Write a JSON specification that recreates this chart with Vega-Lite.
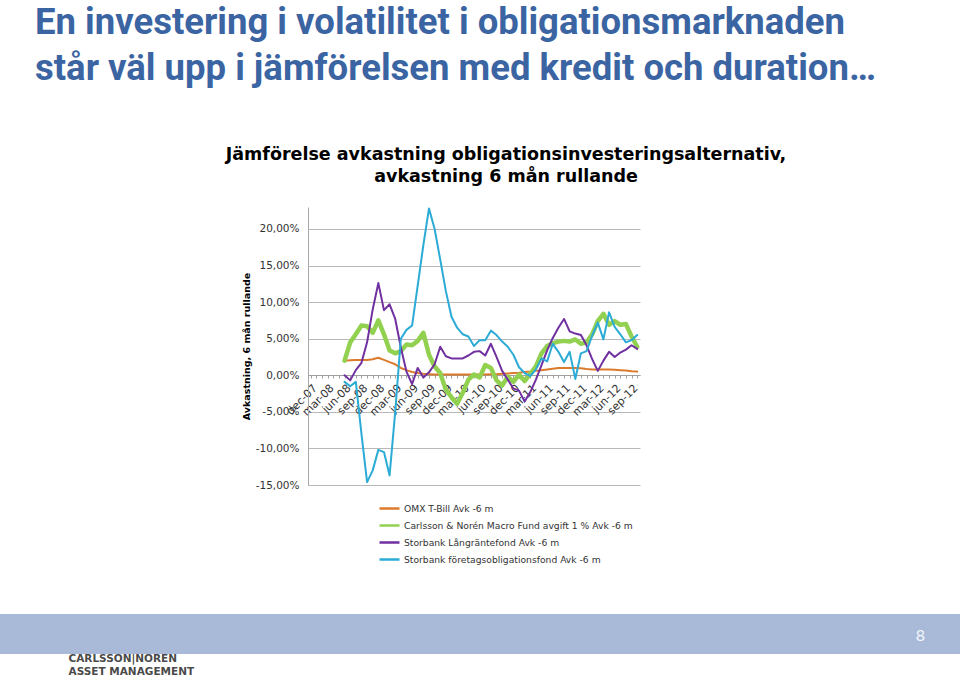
{
  "$schema": "https://vega.github.io/schema/vega-lite/v6.json",
  "background": "white",
  "padding": {"left": 0, "top": 5, "right": 0, "bottom": 0},
  "title": {
    "text": ["En investering i volatilitet i obligationsmarknaden", "står väl upp i jämförelsen med kredit och duration…"],
    "anchor": "start",
    "frame": "bounds",
    "dx": 35,
    "font": "Roboto",
    "fontSize": 36.5,
    "fontWeight": "bold",
    "color": "#3B64A3",
    "lineHeight": 46,
    "offset": 58
  },
  "spacing": 123,
  "vconcat": [
    {
      "spacing": 0,
      "hconcat": [
        {
          "width": 225,
          "height": 1,
          "data": {"values": []},
          "mark": "point"
        },
        {
          "width": 332,
          "height": 278,
          "title": {
            "text": ["Jämförelse avkastning obligationsinvesteringsalternativ,", "avkastning 6 mån rullande"],
            "font": "DejaVu Sans",
            "fontSize": 17.5,
            "fontWeight": "bold",
            "color": "#000000",
            "anchor": "middle",
            "frame": "group",
            "dx": 32,
            "lineHeight": 22,
            "offset": 22
          },
          "data": {
            "values": [
              {"m": "jun-08", "omx": 2.0, "cn": 2.0, "lang": 0.0, "ftg": -0.9},
              {"m": "jul-08", "omx": 2.05, "cn": 4.5, "lang": -0.7, "ftg": -1.5},
              {"m": "aug-08", "omx": 2.1, "cn": 5.6, "lang": 0.7, "ftg": -0.9},
              {"m": "sep-08", "omx": 2.1, "cn": 6.8, "lang": 1.7, "ftg": -8.0},
              {"m": "okt-08", "omx": 2.1, "cn": 6.7, "lang": 4.5, "ftg": -14.6},
              {"m": "nov-08", "omx": 2.2, "cn": 5.8, "lang": 9.0, "ftg": -13.0},
              {"m": "dec-08", "omx": 2.4, "cn": 7.5, "lang": 12.6, "ftg": -10.2},
              {"m": "jan-09", "omx": 2.1, "cn": 5.6, "lang": 8.9, "ftg": -10.5},
              {"m": "feb-09", "omx": 1.8, "cn": 3.4, "lang": 9.7, "ftg": -13.7},
              {"m": "mar-09", "omx": 1.5, "cn": 3.0, "lang": 7.7, "ftg": -5.0},
              {"m": "apr-09", "omx": 1.0, "cn": 3.3, "lang": 3.8, "ftg": 5.0},
              {"m": "maj-09", "omx": 0.7, "cn": 4.2, "lang": 0.5, "ftg": 6.2},
              {"m": "jun-09", "omx": 0.45, "cn": 4.1, "lang": -1.2, "ftg": 6.8},
              {"m": "jul-09", "omx": 0.3, "cn": 4.7, "lang": 1.0, "ftg": 12.3},
              {"m": "aug-09", "omx": 0.2, "cn": 5.8, "lang": -0.3, "ftg": 17.8},
              {"m": "sep-09", "omx": 0.15, "cn": 2.8, "lang": 0.4, "ftg": 22.8},
              {"m": "okt-09", "omx": 0.1, "cn": 1.2, "lang": 1.5, "ftg": 20.0},
              {"m": "nov-09", "omx": 0.1, "cn": 0.3, "lang": 3.9, "ftg": 15.8},
              {"m": "dec-09", "omx": 0.1, "cn": -2.0, "lang": 2.6, "ftg": 11.5},
              {"m": "jan-10", "omx": 0.1, "cn": -3.0, "lang": 2.3, "ftg": 8.0},
              {"m": "feb-10", "omx": 0.1, "cn": -3.9, "lang": 2.3, "ftg": 6.5},
              {"m": "mar-10", "omx": 0.1, "cn": -2.4, "lang": 2.3, "ftg": 5.6},
              {"m": "apr-10", "omx": 0.1, "cn": -0.6, "lang": 2.7, "ftg": 5.3},
              {"m": "maj-10", "omx": 0.1, "cn": 0.1, "lang": 3.2, "ftg": 4.0},
              {"m": "jun-10", "omx": 0.1, "cn": -0.3, "lang": 3.3, "ftg": 4.8},
              {"m": "jul-10", "omx": 0.1, "cn": 1.4, "lang": 2.7, "ftg": 4.8},
              {"m": "aug-10", "omx": 0.15, "cn": 1.0, "lang": 4.3, "ftg": 6.1},
              {"m": "sep-10", "omx": 0.15, "cn": -0.7, "lang": 2.5, "ftg": 5.5},
              {"m": "okt-10", "omx": 0.2, "cn": -1.4, "lang": 0.6, "ftg": 4.6},
              {"m": "nov-10", "omx": 0.25, "cn": -0.2, "lang": -0.6, "ftg": 3.9},
              {"m": "dec-10", "omx": 0.3, "cn": -0.9, "lang": -1.8, "ftg": 2.8},
              {"m": "jan-11", "omx": 0.35, "cn": 0.1, "lang": -2.1, "ftg": 1.1},
              {"m": "feb-11", "omx": 0.45, "cn": -0.8, "lang": -3.6, "ftg": 0.3},
              {"m": "mar-11", "omx": 0.5, "cn": 0.2, "lang": -2.3, "ftg": -0.1},
              {"m": "apr-11", "omx": 0.6, "cn": 1.2, "lang": -0.6, "ftg": 0.8},
              {"m": "maj-11", "omx": 0.7, "cn": 3.0, "lang": 1.4, "ftg": 2.3},
              {"m": "jun-11", "omx": 0.8, "cn": 4.0, "lang": 3.4, "ftg": 1.9},
              {"m": "jul-11", "omx": 0.9, "cn": 4.4, "lang": 5.1, "ftg": 4.3},
              {"m": "aug-11", "omx": 1.0, "cn": 4.6, "lang": 6.5, "ftg": 3.2},
              {"m": "sep-11", "omx": 1.0, "cn": 4.7, "lang": 7.7, "ftg": 1.8},
              {"m": "okt-11", "omx": 1.0, "cn": 4.6, "lang": 6.0, "ftg": 3.2},
              {"m": "nov-11", "omx": 1.0, "cn": 4.9, "lang": 5.7, "ftg": -0.5},
              {"m": "dec-11", "omx": 0.95, "cn": 4.3, "lang": 5.5, "ftg": 3.0},
              {"m": "jan-12", "omx": 0.85, "cn": 4.5, "lang": 4.1, "ftg": 3.3},
              {"m": "feb-12", "omx": 0.8, "cn": 5.6, "lang": 2.2, "ftg": 5.4},
              {"m": "mar-12", "omx": 0.8, "cn": 7.4, "lang": 0.6, "ftg": 7.2},
              {"m": "apr-12", "omx": 0.8, "cn": 8.4, "lang": 2.0, "ftg": 4.9},
              {"m": "maj-12", "omx": 0.8, "cn": 6.9, "lang": 3.2, "ftg": 8.6},
              {"m": "jun-12", "omx": 0.75, "cn": 7.4, "lang": 2.5, "ftg": 6.6},
              {"m": "jul-12", "omx": 0.7, "cn": 6.9, "lang": 3.1, "ftg": 5.6},
              {"m": "aug-12", "omx": 0.65, "cn": 7.0, "lang": 3.5, "ftg": 4.5},
              {"m": "sep-12", "omx": 0.55, "cn": 5.3, "lang": 4.1, "ftg": 4.8},
              {"m": "okt-12", "omx": 0.5, "cn": 3.9, "lang": 3.6, "ftg": 5.5}
            ]
          },
          "transform": [
            {"fold": ["omx", "cn", "lang", "ftg"], "as": ["serie", "v"]}
          ],
          "mark": {"type": "line", "strokeJoin": "round", "strokeCap": "round"},
          "encoding": {
            "x": {
              "field": "m",
              "type": "ordinal",
              "sort": null,
              "scale": {
                "type": "point",
                "padding": 0.5,
                "domain": ["dec-07",
                  "jan-08", "feb-08", "mar-08", "apr-08", "maj-08", "jun-08", "jul-08", "aug-08", "sep-08", "okt-08", "nov-08", "dec-08",
                  "jan-09", "feb-09", "mar-09", "apr-09", "maj-09", "jun-09", "jul-09", "aug-09", "sep-09", "okt-09", "nov-09", "dec-09",
                  "jan-10", "feb-10", "mar-10", "apr-10", "maj-10", "jun-10", "jul-10", "aug-10", "sep-10", "okt-10", "nov-10", "dec-10",
                  "jan-11", "feb-11", "mar-11", "apr-11", "maj-11", "jun-11", "jul-11", "aug-11", "sep-11", "okt-11", "nov-11", "dec-11",
                  "jan-12", "feb-12", "mar-12", "apr-12", "maj-12", "jun-12", "jul-12", "aug-12", "sep-12", "okt-12"]
              },
              "axis": {
                "title": null,
                "offset": -110,
                "labelAngle": -45,
                "labelExpr": "test(/^(dec|mar|jun|sep)/, datum.label) ? datum.label : ''",
                "labelOverlap": false,
                "labelFontSize": 11,
                "labelColor": "#333333",
                "labelPadding": 4,
                "tickSize": 3,
                "tickColor": "#a0a0a0",
                "domainColor": "#a0a0a0",
                "grid": false
              }
            },
            "y": {
              "field": "v",
              "type": "quantitative",
              "scale": {"domain": [-15, 23], "nice": false, "zero": false},
              "axis": {
                "title": "Avkastning, 6 mån rullande",
                "values": [-15, -10, -5, 0, 5, 10, 15, 20],
                "labelExpr": "datum.value + ',00%'",
                "labelFontSize": 10.5,
                "labelColor": "#333333",
                "ticks": false,
                "labelPadding": 9,
                "gridColor": "#b8b8b8",
                "domainColor": "#a8a8a8",
                "titleFontSize": 9.5,
                "titleFontWeight": "bold",
                "titleColor": "#000000",
                "titlePadding": 4
              }
            },
            "color": {
              "field": "serie",
              "type": "nominal",
              "scale": {
                "domain": ["omx", "cn", "lang", "ftg"],
                "range": ["#DC7A2C", "#92D050", "#7030A0", "#2BABD6"]
              },
              "legend": {
                "title": null,
                "orient": "none",
                "legendX": 378,
                "legendY": 290,
                "symbolType": "stroke",
                "symbolSize": 400,
                "symbolStrokeWidth": 2.5,
                "labelFontSize": 9.2,
                "labelColor": "#333333",
                "labelOffset": 3,
                "rowPadding": -2,
                "labelLimit": 400,
                "labelExpr": "datum.value == 'omx' ? 'OMX  T-Bill Avk -6 m' : datum.value == 'cn' ? 'Carlsson & Norén Macro Fund avgift 1 % Avk -6 m' : datum.value == 'lang' ? 'Storbank Långräntefond Avk -6 m' : 'Storbank företagsobligationsfond Avk -6 m'"
              }
            },
            "strokeWidth": {
              "condition": {"test": "datum.serie == 'cn'", "value": 4.5},
              "value": 2
            }
          }
        }
      ]
    },
    {
      "width": 960,
      "height": 40,
      "view": {"fill": "#A8BAD8", "stroke": null},
      "title": {
        "text": "8",
        "anchor": "end",
        "orient": "top",
        "frame": "group",
        "offset": -30,
        "dx": -35,
        "font": "Lato",
        "fontSize": 16,
        "fontWeight": "normal",
        "color": "#F4F7FB"
      },
      "data": {"values": [{"v": 0}]},
      "mark": {"type": "point", "opacity": 0},
      "encoding": {
        "y": {
          "field": "v",
          "type": "quantitative",
          "axis": {
            "title": ["CARLSSON|NOREN", "ASSET MANAGEMENT"],
            "titleAngle": 0,
            "titleX": 68,
            "titleY": 47,
            "titleAlign": "left",
            "titleBaseline": "alphabetic",
            "titleLineHeight": 13,
            "titleFont": "DejaVu Sans",
            "titleFontSize": 10.5,
            "titleFontWeight": "bold",
            "titleColor": "#4A4A4A",
            "labels": false,
            "ticks": false,
            "domain": false,
            "grid": false
          }
        }
      }
    }
  ],
  "config": {
    "font": "DejaVu Sans",
    "view": {"stroke": null},
    "axis": {"labelFont": "DejaVu Sans", "titleFont": "DejaVu Sans"},
    "legend": {"labelFont": "DejaVu Sans"}
  }
}
